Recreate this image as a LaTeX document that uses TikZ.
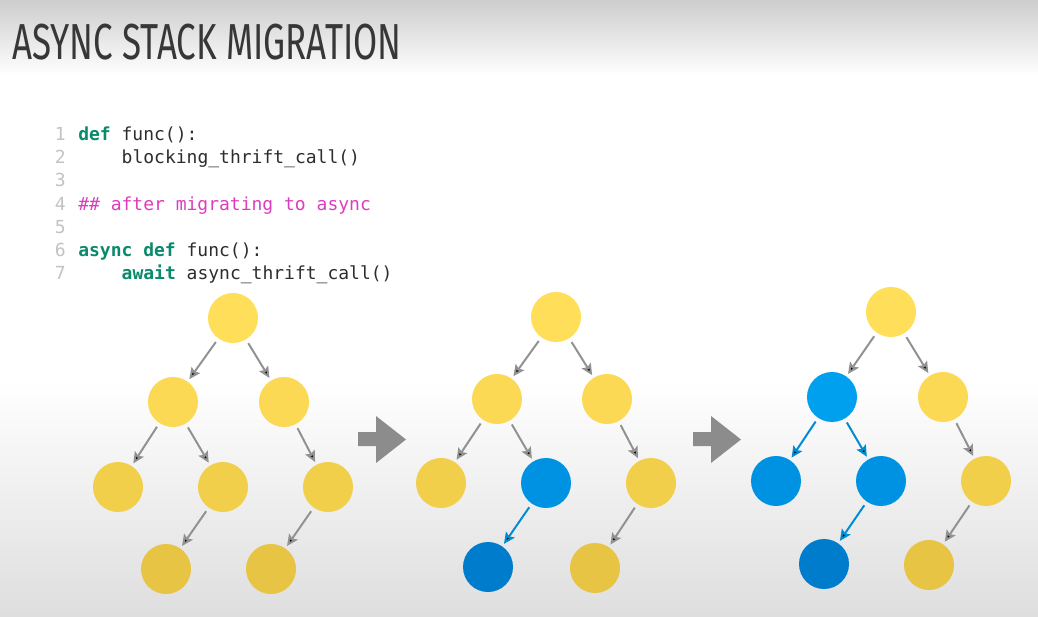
\documentclass[tikz,border=0pt]{standalone}
\usepackage{fontspec}
\usepackage{xcolor}
\usetikzlibrary{arrows.meta}
\setmonofont{DejaVu Sans Mono}
\newfontfamily\titlefont{Fira Sans}[FakeStretch=0.69]
\definecolor{titlegray}{RGB}{55, 55, 55}
\definecolor{codetext}{RGB}{45, 45, 45}
\definecolor{codegreen}{RGB}{10, 138, 108}
\definecolor{codepink}{RGB}{222, 60, 190}
\definecolor{linenogray}{RGB}{195, 195, 195}
\definecolor{bgtop}{RGB}{205, 205, 205}
\definecolor{bgbottom}{RGB}{222, 222, 222}
\definecolor{yel0}{RGB}{255, 222, 90}
\definecolor{yel1}{RGB}{252, 217, 84}
\definecolor{yel2}{RGB}{242, 207, 74}
\definecolor{yel3}{RGB}{231, 196, 67}
\definecolor{blu1}{RGB}{0, 160, 238}
\definecolor{blu2}{RGB}{0, 146, 226}
\definecolor{blu3}{RGB}{0, 124, 204}
\definecolor{linegray}{RGB}{145, 145, 145}
\definecolor{lineblue}{RGB}{0, 140, 210}
\definecolor{arrowgray}{RGB}{140, 140, 140}
\newcommand{\kw}[1]{\textcolor{codegreen}{\bfseries #1}}

\begin{document}
\begin{tikzpicture}[x=0.025cm, y=-0.025cm,
    dot/.style={circle, inner sep=0pt, minimum size=1.25cm},
    link/.style={-{Stealth[length=8pt, width=7.5pt, inset=1.5pt]}, line width=1.4pt, draw=linegray, shorten <=3pt, shorten >=2pt},
    bluelink/.style={link, draw=lineblue},
    codeline/.style={anchor=base west, inner sep=0pt, text=codetext, font=\ttfamily\fontsize{12.8}{15}\selectfont},
    lineno/.style={anchor=base east, inner sep=0pt, text=linenogray, font=\ttfamily\fontsize{12.8}{15}\selectfont}]
    % Background
    \useasboundingbox (0, 0) rectangle (1038, 617);
    \fill[white] (0, 0) rectangle (1038, 617);
    \shade[top color=bgtop, bottom color=white] (0, 0) rectangle (1038, 75);
    \shade[top color=white, bottom color=bgbottom] (0, 380) rectangle (1038, 617);

    % Title
    \node[anchor=base west, inner sep=0pt, text=titlegray, font=\titlefont\fontsize{36}{36}\selectfont] (title) at (12, 60) {ASYNC STACK MIGRATION};

    % Code listing
    \node[lineno] (n1) at (66, 141) {1};
    \node[lineno] (n2) at (66, 164) {2};
    \node[lineno] (n3) at (66, 187) {3};
    \node[lineno] (n4) at (66, 210) {4};
    \node[lineno] (n5) at (66, 233) {5};
    \node[lineno] (n6) at (66, 256) {6};
    \node[lineno] (n7) at (66, 279) {7};
    \node[codeline] (code1) at (78, 141) {\kw{def} func():};
    \node[codeline] (code2) at (121.4, 164) {blocking\_thrift\_call()};
    \node[codeline, text=codepink] (code4) at (78, 210) {\#\# after migrating to async};
    \node[codeline] (code6) at (78, 256) {\kw{async def} func():};
    \node[codeline] (code7) at (121.4, 279) {\kw{await} async\_thrift\_call()};

    % Tree 1: all blocking
    \node[dot, fill=yel0] (r1) at (233, 318) {};
    \node[dot, fill=yel1] (a1) at (173, 402) {};
    \node[dot, fill=yel1] (b1) at (284, 402) {};
    \node[dot, fill=yel2] (c1) at (118, 487) {};
    \node[dot, fill=yel2] (d1) at (223, 487) {};
    \node[dot, fill=yel2] (e1) at (328, 487) {};
    \node[dot, fill=yel3] (f1) at (166, 569) {};
    \node[dot, fill=yel3] (g1) at (271, 569) {};
    \draw[link] (r1) edge (a1) edge (b1) (a1) edge (c1) edge (d1) (b1) edge (e1) (d1) edge (f1) (e1) edge (g1);

    % Tree 2: leaf call migrated
    \node[dot, fill=yel0] (r2) at (556, 317) {};
    \node[dot, fill=yel1] (a2) at (497, 399) {};
    \node[dot, fill=yel1] (b2) at (607, 399) {};
    \node[dot, fill=yel2] (c2) at (441, 483) {};
    \node[dot, fill=blu2] (d2) at (546, 483) {};
    \node[dot, fill=yel2] (e2) at (651, 483) {};
    \node[dot, fill=blu3] (f2) at (488, 567) {};
    \node[dot, fill=yel3] (g2) at (595, 568) {};
    \draw[link] (r2) edge (a2) edge (b2) (a2) edge (c2) edge (d2) (b2) edge (e2) (e2) edge (g2);
    \draw[bluelink] (d2) edge (f2);

    % Tree 3: whole subtree migrated
    \node[dot, fill=yel0] (r3) at (891, 312) {};
    \node[dot, fill=blu1] (a3) at (832, 397) {};
    \node[dot, fill=yel1] (b3) at (943, 397) {};
    \node[dot, fill=blu2] (c3) at (776, 481) {};
    \node[dot, fill=blu2] (d3) at (881, 481) {};
    \node[dot, fill=yel2] (e3) at (986, 481) {};
    \node[dot, fill=blu3] (f3) at (824, 564) {};
    \node[dot, fill=yel3] (g3) at (929, 565) {};
    \draw[link] (r3) edge (a3) edge (b3) (b3) edge (e3) (e3) edge (g3);
    \draw[bluelink] (a3) edge (c3) edge (d3) (d3) edge (f3);

    % Step arrows
    \fill[arrowgray] (358, 432) -- (376, 432) -- (376, 416) -- (406, 439.5) -- (376, 463) -- (376, 446) -- (358, 446) -- cycle;
    \fill[arrowgray] (693, 432) -- (711, 432) -- (711, 416) -- (741, 439.5) -- (711, 463) -- (711, 446) -- (693, 446) -- cycle;
\end{tikzpicture}
\end{document}
